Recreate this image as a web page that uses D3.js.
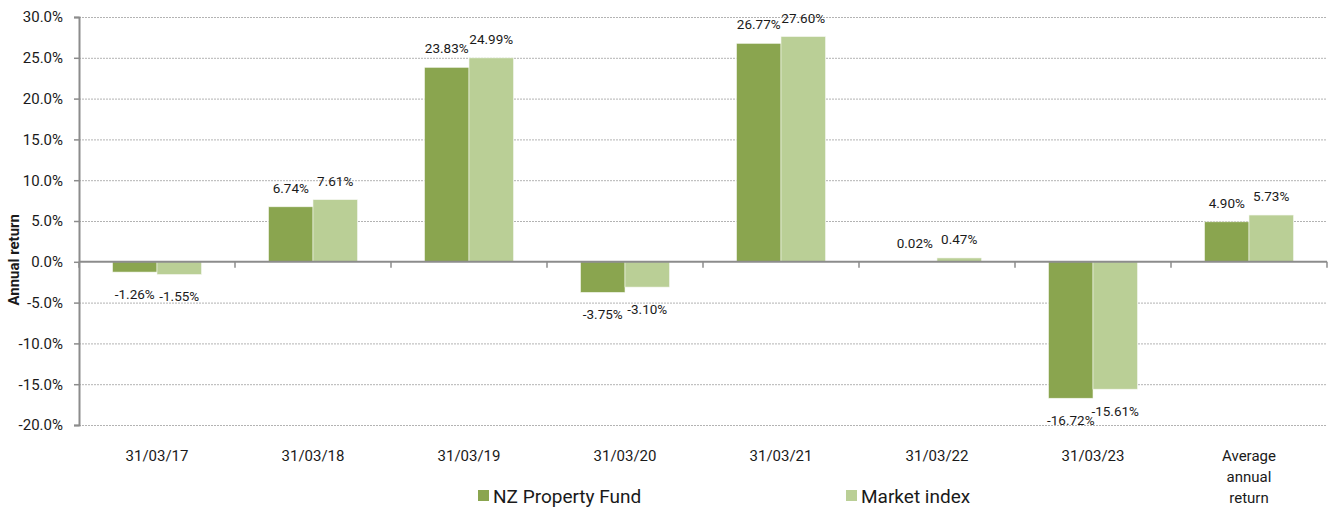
<!DOCTYPE html>
<html>
<head>
<meta charset="utf-8">
<script src="https://cdn.jsdelivr.net/npm/d3@7"></script>
<style>
  body { margin: 0; background: #fff; }
  text { font-family: Roboto, "Liberation Sans", sans-serif; fill: #1a1a1a; }
</style>
</head>
<body>
<div id="chart"></div>
<script>
// données
var categories = ["31/03/17", "31/03/18", "31/03/19", "31/03/20", "31/03/21", "31/03/22", "31/03/23", "Average annual return"];
var fund   = [-1.26, 6.74, 23.83, -3.75, 26.77, 0.02, -16.72, 4.90];
var market = [-1.55, 7.61, 24.99, -3.10, 27.60, 0.47, -15.61, 5.73];
var seriesNames = ["NZ Property Fund", "Market index"];
var yTicks = [30, 25, 20, 15, 10, 5, 0, -5, -10, -15, -20];

var colors = ["#8aa54f", "#bacf96"];

var W = 1330, H = 510;
var plotLeft = 79, plotRight = 1327, plotTop = 17, plotBottom = 425;

var svg = d3.select("#chart").append("svg").attr("width", W).attr("height", H);

var x = d3.scaleBand().domain(categories).range([plotLeft, plotRight]).paddingInner(0).paddingOuter(0);
var y = d3.scaleLinear().domain([-20, 30]).range([plotBottom, plotTop]);
var barW = x.bandwidth() * 0.285;

// grille pointillée
svg.append("g").selectAll("line").data(yTicks.filter(function(d){ return d !== 0; }))
  .enter().append("line")
  .attr("x1", plotLeft).attr("x2", plotRight)
  .attr("y1", function(d){ return y(d) + 0.5; }).attr("y2", function(d){ return y(d) + 0.5; })
  .attr("stroke", "#b3b3b3").attr("stroke-width", 1).attr("stroke-dasharray", "2,1");

// axe Y
var yAxis = d3.axisLeft(y).tickValues(yTicks).tickSize(5).tickPadding(11)
  .tickFormat(function(d){ return d.toFixed(1) + "%"; });
var gy = svg.append("g").attr("transform", "translate(" + plotLeft + ",0)").call(yAxis);
gy.select(".domain").attr("stroke", "#8c8c8c").attr("stroke-width", 2);
gy.selectAll(".tick line").attr("stroke", "#8c8c8c").attr("stroke-width", 1.5);
gy.selectAll(".tick text").style("font-size", "15px").attr("fill", "#1a1a1a");

// barres
var series = [fund, market];
series.forEach(function(vals, s){
  svg.append("g").selectAll("rect").data(vals).enter().append("rect")
    .attr("x", function(d, i){ return x(categories[i]) + x.bandwidth()/2 - barW + s*barW; })
    .attr("y", function(d){ return y(Math.max(0, d)); })
    .attr("width", barW)
    .attr("height", function(d){ return Math.abs(y(d) - y(0)); })
    .attr("fill", colors[s])
    .attr("stroke", "#f4f7ee").attr("stroke-width", 0.6);

  // étiquettes
  svg.append("g").selectAll("text").data(vals).enter().append("text")
    .attr("x", function(d, i){ return x(categories[i]) + x.bandwidth()/2 - barW/2 + s*barW; })
    .attr("y", function(d){ return d >= 0 ? y(d) - 14 : y(d) + 27; })
    .attr("text-anchor", "middle")
    .style("font-size", "13.5px")
    .text(function(d){ return d.toFixed(2) + "%"; });
});

// axe X sur la ligne zéro
var y0 = y(0);
svg.append("line").attr("x1", plotLeft).attr("x2", plotRight).attr("y1", y0).attr("y2", y0)
  .attr("stroke", "#8c8c8c").attr("stroke-width", 2);
var bounds = categories.map(function(c){ return x(c); }).concat([plotRight]);
svg.append("g").selectAll("line").data(bounds).enter().append("line")
  .attr("x1", function(d){ return d; }).attr("x2", function(d){ return d; })
  .attr("y1", y0).attr("y2", y0 + 6)
  .attr("stroke", "#8c8c8c").attr("stroke-width", 1.5);

// libellés des catégories
var labels = svg.append("g").selectAll("text").data(categories).enter().append("text")
  .attr("x", function(d){ return x(d) + x.bandwidth()/2; })
  .attr("y", 461)
  .attr("text-anchor", "middle")
  .style("font-size", "15px");
labels.each(function(d){
  var t = d3.select(this);
  var lines = d === "Average annual return" ? ["Average", "annual", "return"] : [d];
  lines.forEach(function(l, i){
    t.append("tspan").attr("x", t.attr("x")).attr("dy", i === 0 ? 0 : 21).text(l);
  });
});

// titre axe Y
svg.append("text")
  .attr("transform", "translate(19," + (y0 - 2) + ") rotate(-90)")
  .attr("text-anchor", "middle")
  .style("font-size", "15px").style("font-weight", "bold")
  .text("Annual return");

// légende
var legX = [478, 846];
seriesNames.forEach(function(n, i){
  svg.append("rect").attr("x", legX[i]).attr("y", 490).attr("width", 11).attr("height", 11).attr("fill", colors[i]);
  svg.append("text").attr("x", legX[i] + 15).attr("y", 503).style("font-size", "19px").text(n);
});
</script>
</body>
</html>
